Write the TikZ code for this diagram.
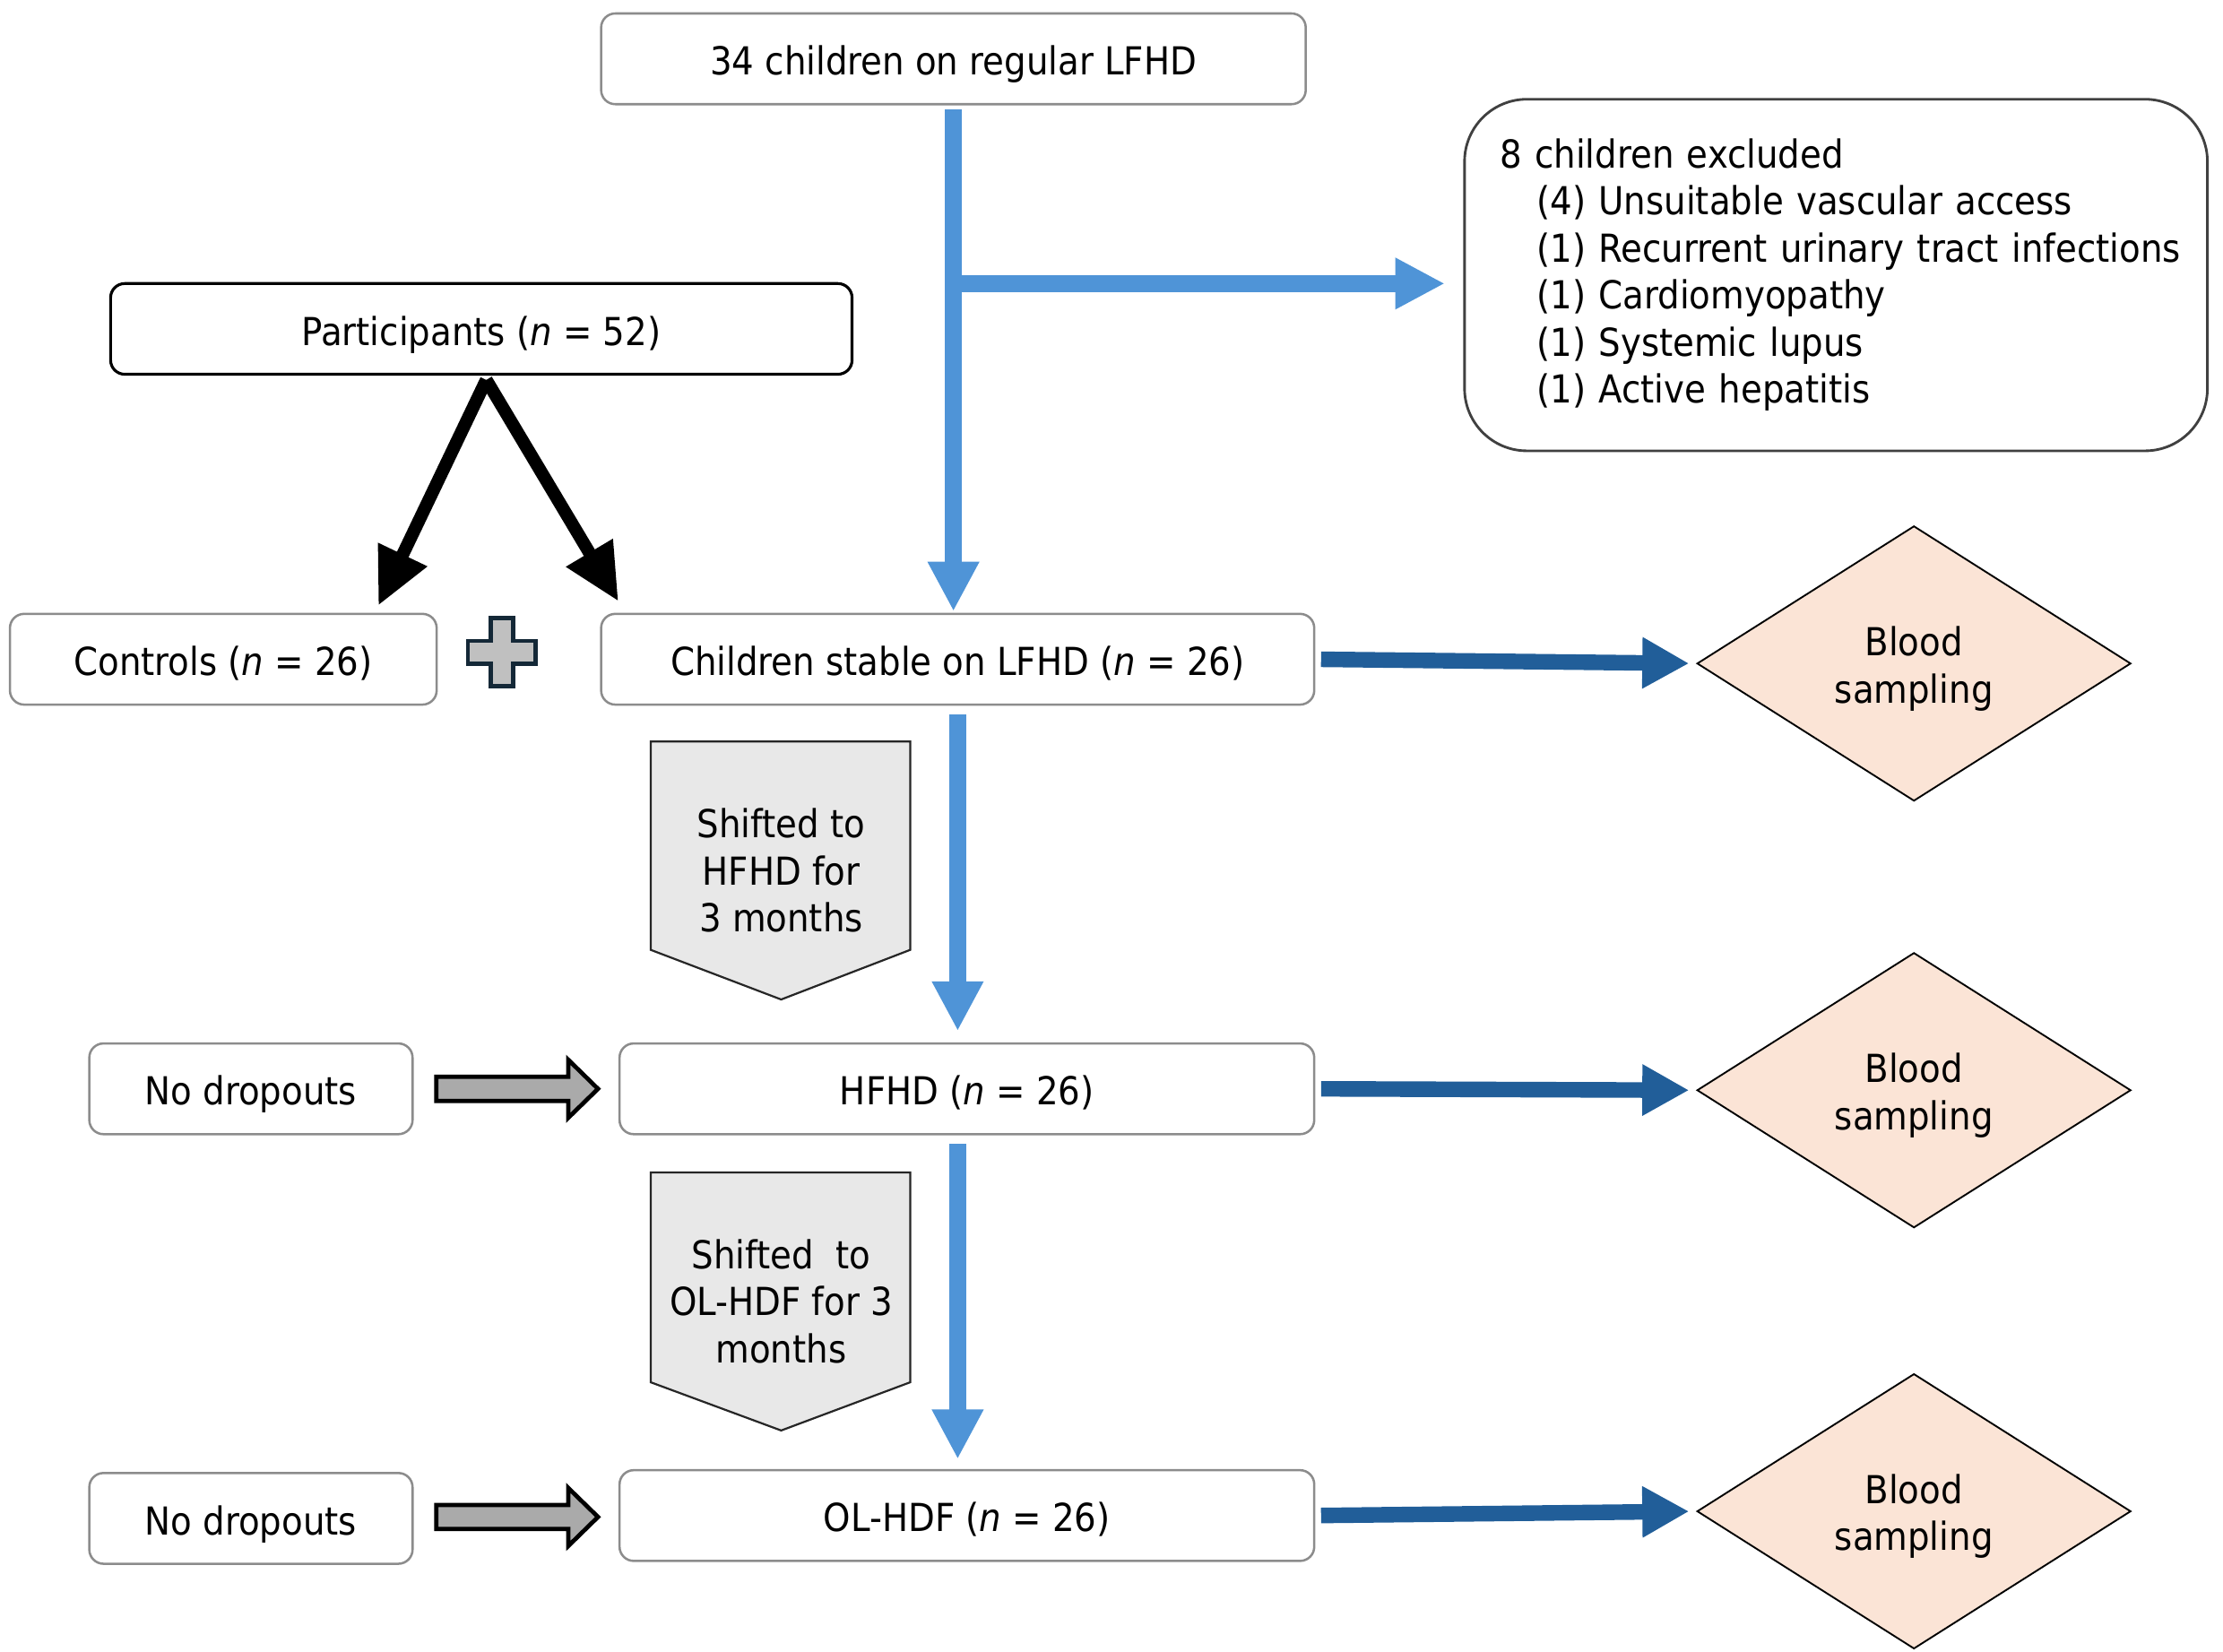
\documentclass[tikz,border=0pt]{standalone}
\usepackage{fontspec}
\setmainfont{DejaVu Sans Condensed}
\usetikzlibrary{arrows.meta,calc,shapes.geometric}
\definecolor{lblue}{RGB}{79,148,215}
\definecolor{dblue}{RGB}{33,94,153}
\definecolor{boxgray}{RGB}{140,140,140}
\definecolor{exgray}{RGB}{64,64,64}
\definecolor{peach}{RGB}{251,228,214}
\definecolor{pentfill}{RGB}{232,232,232}
\definecolor{plusfill}{RGB}{192,192,192}
\definecolor{plusline}{RGB}{20,40,55}
\definecolor{hollowfill}{RGB}{170,170,170}
\begin{document}
\begin{tikzpicture}[x=0.5pt,y=-0.5pt,
  every node/.style={font=\fontsize{13.6}{16.6}\selectfont},
  box/.style={draw=boxgray, line width=0.8pt, rounded corners=5pt, fill=white, align=center, inner sep=0pt, minimum height=32pt},
  oneline/.style={text height=11.5pt, text depth=0pt},
  diam/.style={diamond, draw=black, line width=0.6pt, fill=peach, inner sep=0pt, minimum width=153pt, minimum height=97pt, align=center},
  pent/.style={draw=black!85, line width=0.7pt, fill=pentfill, line join=miter},
  lbluearrow/.style={draw=lblue, line width=6pt, -{Triangle[length=17.5pt,width=17pt]}},
  dbluearrow/.style={draw=dblue, line width=5.5pt, -{Triangle[length=16.5pt,width=17pt]}},
  blackarrow/.style={draw=black, line width=4.5pt, -{Triangle[length=20pt,width=18pt]}},
  hollow/.style={draw=black, line width=1.5pt, fill=hollowfill, line join=miter},
  plus/.style={draw=plusline, line width=1.5pt, fill=plusfill, line join=miter}]
\useasboundingbox (0,0) rectangle (1568,1165);

% boxes
\node[box, oneline, minimum width=248.5pt] (A) at (672.5,41.5) {34 children on regular LFHD};
\node[box, oneline, draw=black, line width=1pt, minimum width=261.5pt] (P) at (339.5,232) {Participants (\textit{n} = 52)};
\node[box, draw=exgray, line width=0.9pt, rounded corners=22pt, minimum width=262pt, minimum height=124pt,
      align=left, text width=237pt, inner xsep=12.5pt] (X) at (1295,194)
  {\mbox{8 children excluded}\\
   \mbox{\hspace*{13pt}(4) Unsuitable vascular access}\\
   \mbox{\hspace*{13pt}(1) Recurrent urinary tract infections}\\
   \mbox{\hspace*{13pt}(1) Cardiomyopathy}\\
   \mbox{\hspace*{13pt}(1) Systemic lupus}\\
   \mbox{\hspace*{13pt}(1) Active hepatitis}};
\node[box, oneline, minimum width=150.5pt] (Ctrl) at (157.5,465) {Controls (\textit{n} = 26)};
\node[box, oneline, minimum width=251.5pt] (S) at (675.5,465) {Children stable on LFHD (\textit{n} = 26)};
\node[box, oneline, minimum width=245pt] (H) at (682,768) {HFHD (\textit{n} = 26)};
\node[box, oneline, minimum width=245pt] (O) at (682,1069) {OL-HDF (\textit{n} = 26)};
\node[box, oneline, minimum width=114pt] (N1) at (177,768) {No dropouts};
\node[box, oneline, minimum width=114pt] (N2) at (177,1071) {No dropouts};

% diamonds
\node[diam] (D1) at (1350,468) {\rule{0pt}{14pt}Blood\\sampling};
\node[diam] (D2) at (1350,769) {\rule{0pt}{14pt}Blood\\sampling};
\node[diam] (D3) at (1350,1066) {\rule{0pt}{14pt}Blood\\sampling};

% pentagons
\draw[pent] (459,523) -- (642,523) -- (642,670) -- (551,705) -- (459,670) -- cycle;
\node[align=center] (T1) at (551,614) {Shifted to\\HFHD for\\3 months};
\draw[pent] (459,827) -- (642,827) -- (642,975) -- (551,1009) -- (459,975) -- cycle;
\node[align=center] (T2) at (551,918) {Shifted\ \ to\\OL-HDF for 3\\months};

% plus sign
\draw[plus] (346,436) -- (362,436) -- (362,452) -- (378,452) -- (378,468) -- (362,468) -- (362,484)
  -- (346,484) -- (346,468) -- (330,468) -- (330,452) -- (346,452) -- cycle;

% light blue connectors
\coordinate (br) at (672.5,200);
\draw[lbluearrow, shorten <=1.5pt, shorten >=0.5pt] (A.south) -- (A.south |- S.north);
\draw[lbluearrow, shorten >=6.5pt] (A.south |- br) -- (br -| X.west);
\draw[lbluearrow, shorten <=3pt, shorten >=4pt] (S.south) -- (S.south |- H.north);
\draw[lbluearrow, shorten <=3pt, shorten >=3.5pt] (S.south |- H.south) -- (S.south |- O.north);

% dark blue connectors
\draw[dbluearrow, shorten <=2pt, shorten >=2.5pt] (S.east) -- (D1.west);
\draw[dbluearrow, shorten <=2pt, shorten >=2.5pt] (H.east) -- (D2.west);
\draw[dbluearrow, shorten <=2pt, shorten >=2.5pt] (O.east) -- (D3.west);

% black arrows
\coordinate (ps) at ($(P.south)+(3.5,3)$);
\coordinate (c1) at ($(Ctrl.north east)+(-42,-5)$);
\coordinate (c2) at ($(S.north west)+(13,-8)$);
\draw[blackarrow] (ps) -- (c1);
\draw[blackarrow] (ps) -- (c2);

% hollow arrows
\begin{scope}[shift={(N1.east)}]
\draw[hollow] (16,-8.5) -- (109,-8.5) -- (109,-20.5) -- (130,0) -- (109,20.5) -- (109,8.5) -- (16,8.5) -- cycle;
\end{scope}
\begin{scope}[shift={(N2.east)}]
\draw[hollow] (16,-9.5) -- (109,-9.5) -- (109,-21.5) -- (130,-1) -- (109,19.5) -- (109,7.5) -- (16,7.5) -- cycle;
\end{scope}
\end{tikzpicture}
\end{document}
